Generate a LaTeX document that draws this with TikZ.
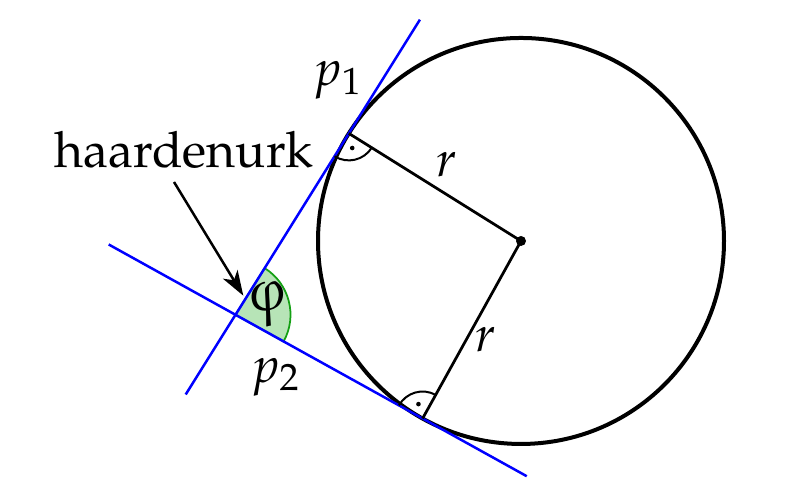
\documentclass[tikz,border=0pt]{standalone}
\usepackage[T1]{fontenc}
\usepackage{mathpazo}
\usetikzlibrary{arrows.meta,calc}
\definecolor{sectfill}{RGB}{183,228,183}
\definecolor{sectline}{RGB}{20,160,20}
\tikzset{
  tangent/.style={draw=blue, line width=0.5pt},
  radiusline/.style={draw=black, line width=0.55pt},
  rightmark/.style={draw=black, line width=0.4pt},
  lbl/.style={inner sep=0pt},
}
\begin{document}
\begin{tikzpicture}[x=0.2pt,y=0.2pt]
\useasboundingbox (0,0) rectangle (800,500);
\coordinate (C) at (521,259);
\coordinate (P) at (235.5,185.2);
\coordinate (T1) at ($(C)+(148:203)$);
\coordinate (T2) at ($(C)+(241:203)$);
% angle sector
\filldraw[fill=sectfill, draw=sectline, line width=0.35pt]
  (P) -- ($(P)+(-29:55)$) arc[start angle=-29, end angle=58, radius=55] -- cycle;
% circle
\draw[line width=0.8pt] (C) circle[radius=203];
% tangents
\coordinate (L1a) at ($(P)+(238:94)$);
\coordinate (L1b) at ($(P)+(58:348)$);
\coordinate (L2a) at ($(P)+(151:145)$);
\coordinate (L2b) at ($(P)+(-29:333)$);
\draw[tangent] (L1a) -- (L1b);
\draw[tangent] (L2a) -- (L2b);
% radii
\draw[radiusline] (T1) -- (C) -- (T2);
\fill (C) circle[radius=5];
% right angle marks
\draw[rightmark] ($(T1)+(238:27)$) arc[start angle=238, end angle=328, radius=27];
\fill ($(T1)+(283:15)$) circle[radius=2.3];
\draw[rightmark] ($(T2)+(61:27)$) arc[start angle=61, end angle=151, radius=27];
\fill ($(T2)+(106:15)$) circle[radius=2.3];
% labels
\node[lbl] (p1) at (338,420) {$p_1$};
\node[lbl] (p2) at (276,123) {$p_2$};
\node[lbl] (r1) at (447,335) {$r$};
\node[lbl] (r2) at (486,160) {$r$};
\node[lbl, xslant=-0.22, transform shape] (phi) at (268,196) {\large$\varphi$};
\node[anchor=base, inner sep=0pt] (lab) at (184,332) {haardenurk};
\coordinate (a0) at (174,318);
\coordinate (a1) at (243.3,204.3);
\draw[line width=0.5pt, -{Stealth[length=5pt, width=3.4pt, inset=1.4pt]}] (a0) -- (a1);
\end{tikzpicture}
\end{document}
